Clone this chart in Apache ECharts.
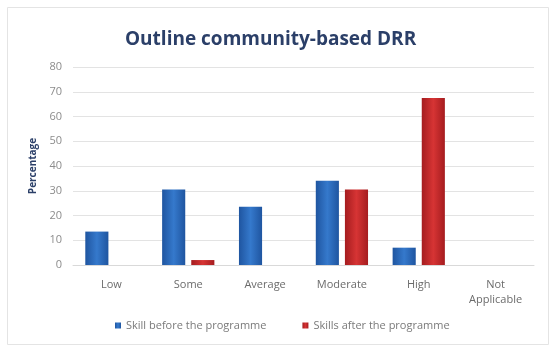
<!DOCTYPE html>
<html>
<head>
<meta charset="utf-8">
<script src="https://cdn.jsdelivr.net/npm/echarts@6/dist/echarts.min.js"></script>
<style>
  html, body { margin: 0; padding: 0; background: #ffffff; }
  #chart { width: 549px; height: 351px; }
</style>
</head>
<body>
<div id="chart"></div>
<script>
// Skill levels and the share of respondents (%) at each level
const categories = ['Low', 'Some', 'Average', 'Moderate', 'High', 'Not\nApplicable'];
const beforeValues = [13.5, 30.5, 23.5, 34, 7, 0];
const afterValues = [0, 2, 0, 30.5, 67.5, 0];
const yTicks = [0, 10, 20, 30, 40, 50, 60, 70, 80];
const seriesNames = ['Skill before the programme', 'Skills after the programme'];

function barGradient(edge, mid) {
  return new echarts.graphic.LinearGradient(0, 0, 1, 0, [
    { offset: 0, color: edge },
    { offset: 0.5, color: mid },
    { offset: 1, color: edge }
  ]);
}

const chart = echarts.init(document.getElementById('chart'), null, { renderer: 'canvas' });
chart.setOption({
  backgroundColor: '#ffffff',
  animation: false,
  graphic: [{
    type: 'rect',
    shape: { x: 7.5, y: 7.5, width: 541, height: 337 },
    style: { fill: 'none', stroke: '#e4e4e4', lineWidth: 1 },
    silent: true
  }],
  title: {
    text: 'Outline community-based DRR',
    left: 120,
    top: 25,
    textStyle: { fontFamily: 'Open Sans', fontWeight: 'bold', fontSize: 19, color: '#2b3f68' }
  },
  grid: { left: 73, right: 15, top: 67, bottom: 86 },
  legend: {
    data: seriesNames,
    bottom: 15,
    left: 110,
    itemWidth: 6,
    itemHeight: 6,
    itemGap: 36,
    icon: 'rect',
    textStyle: { fontFamily: 'Open Sans', fontSize: 11, color: '#7a7a7a' }
  },
  xAxis: {
    type: 'category',
    data: categories,
    axisLine: { lineStyle: { color: '#d9d9d9' } },
    axisTick: { show: false },
    axisLabel: { fontFamily: 'Open Sans', fontSize: 11, color: '#6b6b6b', margin: 12, lineHeight: 15 }
  },
  yAxis: {
    type: 'value',
    min: yTicks[0],
    max: yTicks[yTicks.length - 1],
    interval: 10,
    name: 'Percentage',
    nameLocation: 'middle',
    nameGap: 27,
    nameTextStyle: { fontFamily: 'Open Sans', fontWeight: 'bold', fontSize: 10, color: '#2b3f68' },
    axisLine: { show: false },
    axisTick: { show: false },
    splitLine: { lineStyle: { color: '#e3e3e3' } },
    axisLabel: { fontFamily: 'Open Sans', fontSize: 11, color: '#8c8c8c', margin: 11 }
  },
  series: [
    {
      name: seriesNames[0],
      type: 'bar',
      data: beforeValues,
      barGap: '26%',
      barCategoryGap: '32%',
      itemStyle: { color: barGradient('#1f55a0', '#3579cc') }
    },
    {
      name: seriesNames[1],
      type: 'bar',
      data: afterValues,
      itemStyle: { color: barGradient('#a51c1f', '#d63434') }
    }
  ]
});
</script>
</body>
</html>
